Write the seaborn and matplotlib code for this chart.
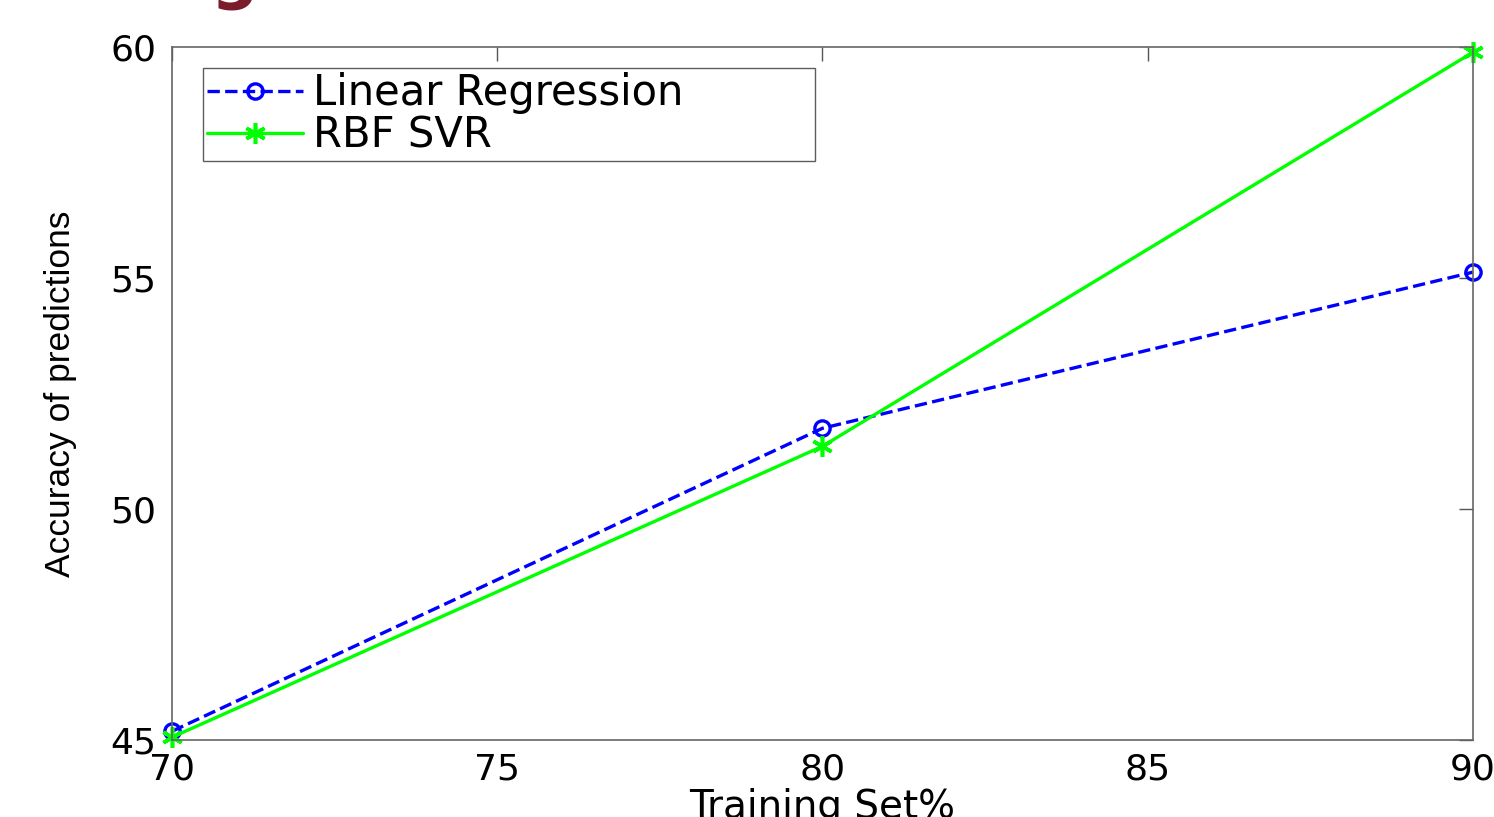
import numpy as np
import pandas as pd
import matplotlib
matplotlib.use("Agg")
import matplotlib.pyplot as plt
import seaborn as sns

# data
training_set = [70, 80, 90]
linear_regression = [45.19, 51.75, 55.13]
rbf_svr = [45.06, 51.36, 59.89]

sns.set_style("white")
plt.rcParams['font.family'] = ['DejaVu Sans']
plt.rcParams['text.color'] = 'black'
plt.rcParams['axes.labelcolor'] = 'black'
plt.rcParams['xtick.color'] = 'black'
plt.rcParams['ytick.color'] = 'black'

fig = plt.figure(figsize=(14.94, 8.17), dpi=100)
ax = fig.add_axes([0.1151, 0.0942, 0.8708, 0.848])

sns.lineplot(x=training_set, y=linear_regression, ax=ax, color=(0, 0, 1),
             linestyle='--', dashes=(4, 3), linewidth=2.4, marker='o', markersize=11,
             markerfacecolor='none', markeredgecolor=(0, 0, 1), markeredgewidth=2.4,
             label='Linear Regression')
sns.lineplot(x=training_set, y=rbf_svr, ax=ax, color=(0, 1, 0),
             linewidth=2.4, marker=(6, 2, 0), markersize=15, markeredgewidth=2.6,
             markeredgecolor=(0, 1, 0), label='RBF SVR')
for ln in ax.lines:
    ln.set_clip_on(False)

ax.set_xlim(70, 90)
ax.set_ylim(45, 60)
ax.set_xticks([70, 75, 80, 85, 90])
ax.set_yticks([45, 50, 55, 60])
ax.tick_params(direction='in', length=10, width=1, color='#555555',
               top=True, right=True, labelsize=26)
ax.tick_params(axis='x', pad=9)
ax.tick_params(axis='y', pad=11)
for s in ax.spines.values():
    s.set_color('#666666')
    s.set_linewidth(1.2)

ax.set_xlabel('Training Set%', fontsize=28, labelpad=1)
ax.set_ylabel('Accuracy of predictions', fontsize=25.5,
              family=['Liberation Sans'], labelpad=24)

leg = ax.legend(loc='upper left', bbox_to_anchor=(0.0238, 0.5, 0.4704, 0.4697),
                mode='expand', fontsize=30,
                frameon=True, fancybox=False, borderpad=0.1, labelspacing=0.0,
                handlelength=2.3, handletextpad=0.25, borderaxespad=0)
leg.get_frame().set_edgecolor('#333333')
leg.get_frame().set_linewidth(1.0)

# clipped title glyph at the very top
fig.text(0.157, 1.006, 'g', color='#7b1c2a', fontsize=48, fontweight='bold',
         ha='center', va='baseline')

fig.savefig('out.png', dpi=100)
